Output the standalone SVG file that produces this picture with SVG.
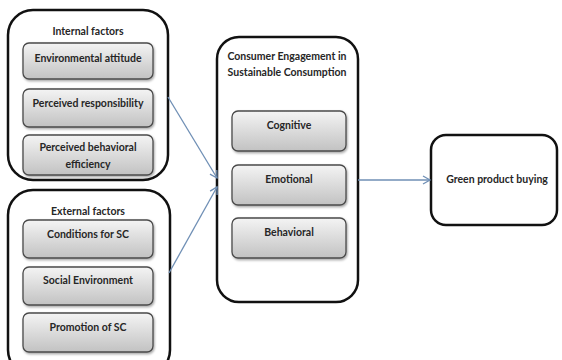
<svg xmlns="http://www.w3.org/2000/svg" width="562" height="360" viewBox="0 0 562 360">
  <defs>
    <linearGradient id="g" x1="0" y1="0" x2="0" y2="1">
      <stop offset="0" stop-color="#f4f4f4"/>
      <stop offset="1" stop-color="#c2c2c2"/>
    </linearGradient>
    <filter id="sh" x="-10%" y="-10%" width="130%" height="140%">
      <feDropShadow dx="1" dy="1.5" stdDeviation="1" flood-color="#000" flood-opacity="0.35"/>
    </filter>
    <marker id="ah" markerWidth="10" markerHeight="10" refX="8" refY="5" orient="auto" markerUnits="userSpaceOnUse">
      <path d="M1,1 L8,5 L1,9" fill="none" stroke="#6f8fb5" stroke-width="1.3"/>
    </marker>
  </defs>
  <style>
    .outer { fill: #fff; stroke: #111; stroke-width: 2.5; }
    .inner { fill: url(#g); stroke: #4a4a4a; stroke-width: 1.3; filter: url(#sh); }
    .t { font-family: Lato, "Open Sans", "Liberation Sans", sans-serif; font-weight: bold; font-size: 10.5px; fill: #262626; text-anchor: middle; }
    .c { fill: none; stroke: #6f8fb5; stroke-width: 1.3; marker-end: url(#ah); }
  </style>
  <rect width="562" height="360" fill="#fff"/>

  <g id="internal">
    <rect class="outer" x="8" y="10" width="160" height="170" rx="25"/>
    <text class="t" x="88" y="35">Internal factors</text>
  </g>
  <g id="env-attitude">
    <rect class="inner" x="23" y="43" width="130" height="36" rx="6"/>
    <text class="t" x="88" y="62">Environmental attitude</text>
  </g>
  <g id="perc-resp">
    <rect class="inner" x="23" y="89" width="130" height="38" rx="6"/>
    <text class="t" x="88" y="107">Perceived responsibility</text>
  </g>
  <g id="perc-eff">
    <rect class="inner" x="23" y="135" width="130" height="40" rx="6"/>
    <text class="t" x="88" y="151">Perceived behavioral</text>
    <text class="t" x="88" y="168">efficiency</text>
  </g>

  <g id="external">
    <rect class="outer" x="8" y="190" width="162" height="185" rx="25"/>
    <text class="t" x="88" y="215">External factors</text>
  </g>
  <g id="conditions">
    <rect class="inner" x="23" y="220" width="130" height="38" rx="6"/>
    <text class="t" x="88" y="238">Conditions for SC</text>
  </g>
  <g id="social">
    <rect class="inner" x="23" y="267" width="130" height="38" rx="6"/>
    <text class="t" x="88" y="284">Social Environment</text>
  </g>
  <g id="promotion">
    <rect class="inner" x="23" y="313" width="130" height="39" rx="6"/>
    <text class="t" x="88" y="331">Promotion of SC</text>
  </g>

  <g id="engagement">
    <rect class="outer" x="217" y="37" width="141" height="265" rx="22"/>
    <text class="t" x="287" y="60">Consumer Engagement in</text>
    <text class="t" x="287" y="76">Sustainable Consumption</text>
  </g>
  <g id="cognitive">
    <rect class="inner" x="232" y="111" width="114" height="40" rx="6"/>
    <text class="t" x="289" y="129">Cognitive</text>
  </g>
  <g id="emotional">
    <rect class="inner" x="232" y="165" width="114" height="40" rx="6"/>
    <text class="t" x="289" y="183">Emotional</text>
  </g>
  <g id="behavioral">
    <rect class="inner" x="232" y="218" width="114" height="40" rx="6"/>
    <text class="t" x="289" y="236">Behavioral</text>
  </g>

  <g id="green">
    <rect class="outer" x="431" y="135" width="126" height="90" rx="15"/>
    <text class="t" x="497" y="183">Green product buying</text>
  </g>

  <g id="connectors">
    <line class="c" x1="168" y1="97" x2="217" y2="178"/>
    <line class="c" x1="169" y1="273" x2="217" y2="187"/>
    <line class="c" x1="358" y1="180" x2="430" y2="180"/>
  </g>
</svg>
